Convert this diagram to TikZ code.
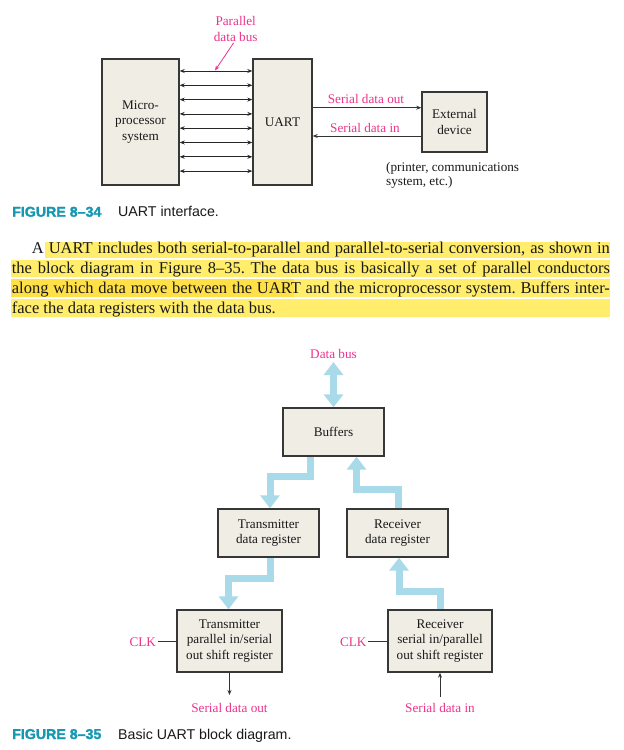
\documentclass[tikz,border=0pt]{standalone}
\usepackage{fontspec}
\setmainfont{Liberation Serif}
\newfontfamily\capfont{Liberation Sans}
\newfontfamily\capboldfont{Liberation Sans Bold}[FakeBold=1.6]
\usetikzlibrary{arrows.meta}
\definecolor{pinkc}{RGB}{236,52,140}
\definecolor{tealc}{RGB}{22,152,178}
\definecolor{boxfill}{RGB}{240,237,228}
\definecolor{boxline}{RGB}{55,55,55}
\definecolor{bluec}{RGB}{168,218,234}
\definecolor{hlA}{RGB}{255,237,107}
\definecolor{hlB}{RGB}{255,224,70}
\definecolor{txtc}{RGB}{25,25,25}
\newcommand\figtxt{\fontsize{13.2}{15.8}\selectfont}
\newcommand\partxt{\fontsize{16.5}{20}\selectfont}
\newcommand\captxt{\capfont\fontsize{14.2}{17}\selectfont}
\frenchspacing
\begin{document}
\begin{tikzpicture}[x=1pt,y=-1pt,
  blk/.style={draw=boxline, fill=boxfill, line width=1.4pt, inner sep=0pt,
    font=\figtxt, text=txtc, align=center},
  lbl/.style={text=pinkc, font=\figtxt, inner sep=1pt, align=center},
  busln/.style={draw=black!85, line width=0.8pt,
    {Stealth[length=5pt,width=4pt]}-{Stealth[length=5pt,width=4pt]}},
  sig/.style={draw=black!80, line width=0.8pt, -{Stealth[length=5pt,width=4pt]}},
  pinkarrow/.style={draw=pinkc, line width=0.8pt, -{Stealth[length=5pt,width=4pt]}},
  fat/.style={draw=bluec, line width=7pt, -{Triangle[length=13pt,width=19pt]}},
  fatboth/.style={draw=bluec, line width=7pt,
    {Triangle[length=13pt,width=19pt]}-{Triangle[length=13pt,width=19pt]}},
  para/.style={font=\partxt, text=txtc, inner sep=0pt, anchor=base west},
  captext/.style={font=\captxt, inner sep=0pt, anchor=base west}
]
\useasboundingbox[fill=white] (0,0) rectangle (624,750);

% ---------------- Figure 8-34 ----------------
\node[blk, minimum width=77pt, minimum height=126pt] (mps) at (140.5,122) {Micro-\\processor\\system};
\node[blk, minimum width=59pt, minimum height=126pt] (uart) at (282.5,122) {UART};
\node[blk, minimum width=65pt, minimum height=60pt] (ext) at (454.5,122) {External\\device};

\foreach \i in {0,...,7}{
  \draw[busln] ([yshift={-(12.7pt+14.3pt*\i)}]mps.north east) -- ([yshift={-(12.7pt+14.3pt*\i)}]uart.north west);
}

\node[lbl] (pdb) at (235.7,29) {Parallel\\data bus};
\coordinate (pdbend) at (215,70.5);
\draw[pinkarrow] ([xshift=-2pt]pdb.south) -- (pdbend);

\draw[sig] ([yshift=14.3pt]uart.east) -- ([yshift=14.3pt]ext.west);
\draw[sig] ([yshift=-14pt]ext.west) -- ([yshift=-14pt]uart.east);
\node[lbl] (sdol) at (366,99) {Serial data out};
\node[lbl] (sdil) at (365,127.5) {Serial data in};

\node[font=\fontsize{13.2}{13.4}\selectfont, text=txtc, align=left, inner sep=0pt, anchor=north west] (note) at (386,162.5)
  {(printer, communications\\system, etc.)};

\node[captext, text=tealc] (cap1a) at (12,216.7) {\capboldfont\fontsize{14.2}{17}\selectfont FIGURE 8–34};
\node[captext, text=txtc] (cap1b) at (118,216.7) {UART interface.};

% ---------------- Paragraph ----------------
\fill[hlA] (45,241.7) rectangle (610,257.5);
\fill[hlA] (11,260) rectangle (610,276.5);
\fill[hlA] (11,279) rectangle (610,297);
\fill[hlB] (11,279) rectangle (294,297);
\fill[hlA] (11,298.5) rectangle (610,316.7);

\node[para] (p1) at (31.7,253.3) {\makebox[578pt][s]{A UART includes both serial-to-parallel and parallel-to-serial conversion, as shown in}};
\node[para] (p2) at (11.7,273.3) {\makebox[598pt][s]{the block diagram in Figure 8–35. The data bus is basically a set of parallel conductors}};
\node[para] (p3) at (11.7,293.3) {\makebox[598pt][s]{along which data move between the UART and the microprocessor system. Buffers inter-}};
\node[para] (p4) at (11.7,313.3) {face the data registers with the data bus.};

% ---------------- Figure 8-35 ----------------
\node[lbl] (dbl) at (333.5,354) {Data bus};
\node[blk, minimum width=101pt, minimum height=48pt] (buf) at (333.5,432) {Buffers};
\node[blk, minimum width=101pt, minimum height=48pt] (txd) at (268.5,533) {Transmitter\\data register};
\node[blk, minimum width=101pt, minimum height=48pt] (rxd) at (397.5,533) {Receiver\\data register};
\node[blk, minimum width=105pt, minimum height=62pt] (txs) at (229.5,641) {Transmitter\\parallel in/serial\\out shift register};
\node[blk, minimum width=104pt, minimum height=62pt] (rxs) at (440,641) {Receiver\\serial in/parallel\\out shift register};

\coordinate (dbtop) at (333.5,362);
\draw[fatboth] (dbtop) -- (buf.north);
\draw[fat] ([xshift=-23pt]buf.south) -- ++(0,20) -| ([xshift=1.5pt]txd.north);
\draw[fat] ([xshift=0.5pt]rxd.north) -- ++(0,-19) -| ([xshift=23pt]buf.south);
\draw[fat] ([xshift=1.5pt]txd.south) -- ++(0,20.5) -| ([xshift=-1pt]txs.north);
\draw[fat] (rxs.north) -- ++(0,-17.5) -| ([xshift=1.5pt]rxd.south);

\node[lbl, inner sep=1.5pt] (clka) at (142.7,641.7) {CLK};
\node[lbl, inner sep=1.5pt] (clkb) at (353.3,641.7) {CLK};
\draw[draw=black!80, line width=0.8pt] (clka.east) -- (clka.east -| txs.west);
\draw[draw=black!80, line width=0.8pt] (clkb.east) -- (clkb.east -| rxs.west);

\coordinate (sdo) at (229.5,695);
\coordinate (sdi) at (440,697);
\draw[sig] (txs.south) -- (sdo);
\draw[sig] (sdi) -- (rxs.south);
\node[lbl] (sdo2) at (229.5,707.5) {Serial data out};
\node[lbl] (sdi2) at (440,707.5) {Serial data in};

\node[captext, text=tealc] (cap2a) at (12,739) {\capboldfont\fontsize{14.2}{17}\selectfont FIGURE 8–35};
\node[captext, text=txtc] (cap2b) at (118,739) {Basic UART block diagram.};
\end{tikzpicture}
\end{document}
